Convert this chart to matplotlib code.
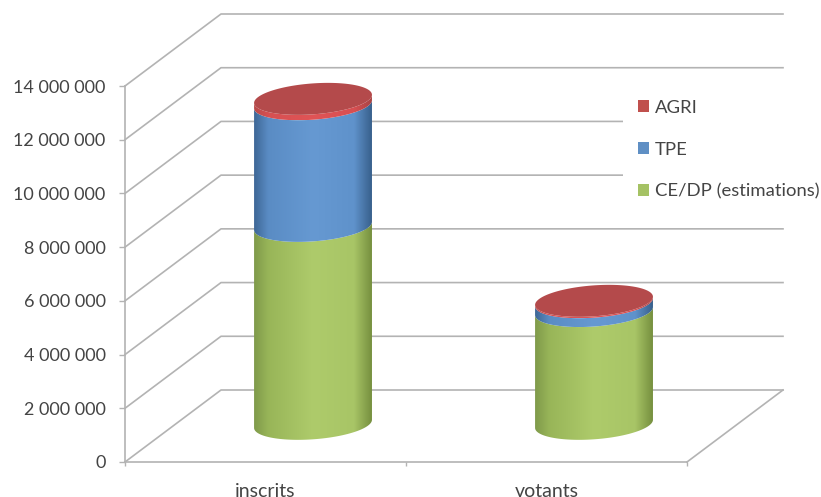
import numpy as np
import matplotlib
matplotlib.use("Agg")
import matplotlib.pyplot as plt
from matplotlib.patches import Patch, Polygon
from matplotlib.ticker import FuncFormatter

# Data
categories = ["inscrits", "votants"]
ce_dp = [7_370_000, 4_200_000]
tpe = [4_530_000, 330_000]
agri = [200_000, 50_000]
y_ticks = [0, 2_000_000, 4_000_000, 6_000_000, 8_000_000, 10_000_000, 12_000_000, 14_000_000]

series = [
    ("CE/DP (estimations)", ce_dp, "#a5c264", ["#7f9a4a", "#98b558", "#aecb6b", "#a8c566", "#76903f"]),
    ("TPE", tpe, "#5f8fc4", ["#3e6796", "#5a8cc4", "#6699d2", "#5f92cb", "#38608c"]),
    ("AGRI", agri, "#c0504d", ["#b84a4a", "#d65052", "#e05456", "#d84f52", "#a84444"]),
]
top_face_colour = "#b44a4b"
grid_colour = "#b3b3b3"
text_colour = "#444444"

# Pixel layout of the plotting frame
W, H = 821, 497
LEFT, RIGHT, BOTTOM, TOP = 125, 687, 462, 86

plt.rcParams["font.family"] = ["Lato", "DejaVu Sans"]
fig = plt.figure(figsize=(W / 100, H / 100), dpi=100, facecolor="white")
ax = fig.add_axes([LEFT / W, 1 - BOTTOM / H, (RIGHT - LEFT) / W, (BOTTOM - TOP) / H])
ax.set_facecolor("none")

xlim = (-0.5, 1.5)
ylim = (0, 14_000_000)
px_x = (xlim[1] - xlim[0]) / (RIGHT - LEFT)
px_y = (ylim[1] - ylim[0]) / (BOTTOM - TOP)

# Oblique depth of the floor and back wall
depth_x = 96 * px_x
depth_y = 72 * px_y

# Walls: one diagonal plus one horizontal per graduation
for v in y_ticks:
    ax.plot([xlim[0], xlim[0] + depth_x, xlim[1] + depth_x],
            [v, v + depth_y, v + depth_y],
            color=grid_colour, lw=1.2, clip_on=False, zorder=1)
# Floor edge on the right-hand side
ax.plot([xlim[1], xlim[1] + depth_x], [0, depth_y], color=grid_colour, lw=1.2,
        clip_on=False, zorder=1)

# Cylinder geometry: tilted ellipses placed about half way into the depth
centre_depth_x = 0.495
centre_depth_y = 0.53
half_w = 57 * px_x
shear = 15 * px_x
half_h = 16 * px_y
reach = np.hypot(half_w, shear)
phase = np.arctan2(shear, half_w)


def ellipse_xy(cx, level, t):
    x = cx + centre_depth_x * depth_x + half_w * np.cos(t) + shear * np.sin(t)
    y = level + centre_depth_y * depth_y + half_h * np.sin(t)
    return x, y


def shaded_body(cx, low, high, stops, z):
    t_front = np.linspace(phase + np.pi, phase + 2 * np.pi, 80)
    xl, yl = ellipse_xy(cx, low, t_front)
    xh, yh = ellipse_xy(cx, high, t_front)
    xs = np.r_[xl, xh[::-1]]
    ys = np.r_[yl, yh[::-1]]
    clip = Polygon(np.c_[xs, ys], closed=True, transform=ax.transData, fc="none", ec="none")
    ax.add_patch(clip)
    rgb = np.array([matplotlib.colors.to_rgb(c) for c in stops])
    u = np.linspace(0, 1, 256)
    grad = np.stack([np.interp(u, [0, .12, .5, .85, 1], rgb[:, i]) for i in range(3)], axis=-1)[None, :, :]
    centre = cx + centre_depth_x * depth_x
    img = ax.imshow(grad, extent=(centre - reach, centre + reach, ys.min(), ys.max()),
                    aspect="auto", interpolation="bilinear", zorder=z, clip_on=True)
    img.set_clip_path(clip)


for i in range(len(categories)):
    base = 0
    z = 3
    for name, values, _, stops in series:
        shaded_body(i, base, base + values[i], stops, z)
        base += values[i]
        z += 0.1
    t = np.linspace(0, 2 * np.pi, 160)
    fx, fy = ellipse_xy(i, base, t)
    ax.fill(fx, fy, color=top_face_colour, lw=0, zorder=z, clip_on=False)

ax.set_xlim(*xlim)
ax.set_ylim(*ylim)

# Axes
for side in ("top", "right"):
    ax.spines[side].set_visible(False)
for side in ("left", "bottom"):
    ax.spines[side].set_color(grid_colour)
    ax.spines[side].set_linewidth(1.2)
ax.set_yticks(y_ticks)
ax.yaxis.set_major_formatter(FuncFormatter(lambda v, _: f"{v:,.0f}".replace(",", " ")))
ax.tick_params(axis="y", length=4, width=1, color=grid_colour, labelsize=13,
               labelcolor=text_colour, pad=10)
ax.set_xticks([-0.5, 0.5, 1.5])
ax.set_xticklabels([])
ax.tick_params(axis="x", which="major", length=3, width=1, color=grid_colour)
ax.set_xticks([0, 1], categories, minor=True)
ax.tick_params(axis="x", which="minor", length=0, labelsize=14, labelcolor=text_colour, pad=15)

# Legend on a white panel that interrupts the wall lines behind it
handles = [Patch(facecolor=s[2], edgecolor="none", label=s[0]) for s in reversed(series)]
leg = ax.legend(handles=handles, loc="upper left", bbox_to_anchor=(623 / W, 1 - 85 / H),
                bbox_transform=fig.transFigure, frameon=True, fancybox=False, framealpha=1,
                facecolor="white", edgecolor="none", fontsize=13.3, labelcolor=text_colour,
                handlelength=0.62, handleheight=0.62, handletextpad=0.3,
                labelspacing=1.4, borderpad=0.8, borderaxespad=0)
leg.set_zorder(2)

fig.savefig("out.png", dpi=100)
